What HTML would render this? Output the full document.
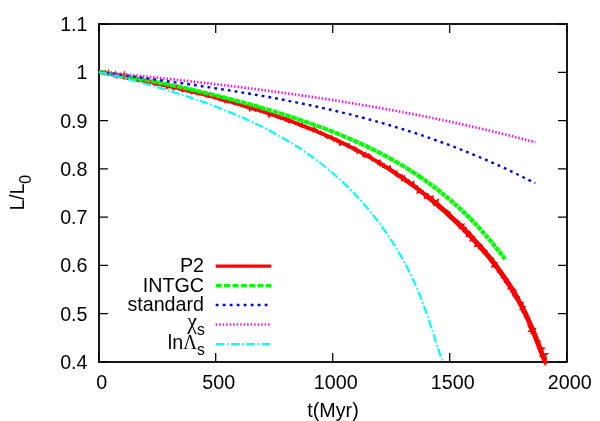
<!DOCTYPE html>
<html><head><meta charset="utf-8"><style>
html,body{margin:0;padding:0;background:#fff;}
svg{display:block;will-change:transform}
text{font-family:"Liberation Sans",sans-serif;font-size:19.7px;fill:#000}
.sym{font-family:"Liberation Serif",serif;}
</style></head><body>
<svg width="600" height="421" viewBox="0 0 600 421">
<rect width="600" height="421" fill="#fff"/>
<g stroke="#000" stroke-width="1.25" fill="none">
<path d="M99.0,362.00h9M567.0,362.00h-9"/>
<path d="M99.0,313.71h9M567.0,313.71h-9"/>
<path d="M99.0,265.43h9M567.0,265.43h-9"/>
<path d="M99.0,217.14h9M567.0,217.14h-9"/>
<path d="M99.0,168.86h9M567.0,168.86h-9"/>
<path d="M99.0,120.57h9M567.0,120.57h-9"/>
<path d="M99.0,72.29h9M567.0,72.29h-9"/>
<path d="M99.0,24.00h9M567.0,24.00h-9"/>
<path d="M98.70,362.0v-9M98.70,24.0v9"/>
<path d="M215.70,362.0v-9M215.70,24.0v9"/>
<path d="M332.70,362.0v-9M332.70,24.0v9"/>
<path d="M449.70,362.0v-9M449.70,24.0v9"/>
<path d="M566.70,362.0v-9M566.70,24.0v9"/>
</g>
<rect x="99.0" y="24.0" width="468.0" height="338.0" fill="none" stroke="#000" stroke-width="1.8"/>
<g fill="none" stroke-linejoin="round">
<path d="M99.0,71.9 L101.8,72.4 L104.5,72.9 L107.3,73.4 L110.1,74.0 L112.8,74.5 L115.6,75.0 L118.4,75.6 L121.1,76.1 L123.9,76.6 L126.6,77.2 L129.4,77.7 L132.1,78.3 L134.9,78.9 L137.7,79.4 L140.4,80.0 L143.2,80.6 L145.9,81.1 L148.7,81.7 L151.4,82.3 L154.2,82.9 L156.9,83.5 L159.7,84.1 L162.4,84.7 L165.2,85.3 L167.9,85.9 L170.7,86.6 L173.4,87.2 L176.1,87.8 L178.9,88.5 L181.6,89.1 L184.4,89.8 L187.1,90.4 L189.8,91.1 L192.6,91.7 L195.3,92.4 L198.0,93.1 L200.8,93.8 L203.5,94.5 L206.2,95.2 L208.9,95.9 L211.7,96.6 L214.4,97.3 L217.1,98.0 L219.8,98.8 L222.5,99.5 L225.2,100.3 L227.9,101.0 L230.7,101.8 L233.4,102.5 L236.1,103.3 L238.8,104.1 L241.5,104.9 L244.2,105.7 L246.9,106.5 L249.5,107.3 L252.2,108.2 L254.9,109.0 L257.6,109.8 L260.3,110.7 L263.0,111.6 L265.6,112.4 L268.3,113.3 L271.0,114.2 L273.6,115.1 L276.3,116.0 L279.0,116.9 L281.6,117.9 L284.3,118.8 L286.9,119.8 L289.6,120.7 L292.2,121.7 L294.8,122.7 L297.5,123.7 L300.1,124.7 L302.7,125.7 L305.3,126.7 L307.9,127.8 L310.6,128.8 L313.2,129.9 L315.8,131.0 L318.3,132.1 L320.9,133.2 L323.5,134.3 L326.1,135.4 L328.7,136.6 L331.2,137.7 L333.8,138.9 L336.3,140.1 L338.9,141.3 L341.4,142.5 L343.9,143.7 L346.5,145.0 L349.0,146.2 L351.5,147.5 L354.0,148.8 L356.5,150.1 L359.0,151.4 L361.5,152.8 L363.9,154.1 L366.4,155.5 L368.8,156.8 L371.3,158.2 L373.7,159.6 L376.2,161.1 L378.6,162.5 L381.0,163.9 L383.4,165.4 L385.8,166.9 L388.2,168.4 L390.5,169.9 L392.9,171.4 L395.2,173.0 L397.6,174.5 L399.9,176.1 L402.2,177.7 L404.5,179.3 L406.8,180.9 L409.1,182.6 L411.4,184.2 L413.7,185.9 L415.9,187.6 L418.2,189.3 L420.4,191.0 L422.6,192.7 L424.9,194.4 L427.1,196.2 L429.2,198.0 L431.4,199.7 L433.6,201.5 L435.7,203.3 L437.9,205.2 L440.0,207.0 L442.1,208.8 L444.3,210.7 L446.4,212.6 L448.4,214.5 L450.5,216.4 L452.6,218.3 L454.6,220.2 L456.7,222.1 L458.7,224.1 L460.7,226.1 L462.7,228.1 L464.7,230.0 L466.6,232.1 L468.6,234.1 L470.5,236.1 L472.5,238.2 L474.4,240.2 L476.3,242.3 L478.2,244.4 L480.0,246.5 L481.9,248.6 L483.7,250.7 L485.6,252.9 L487.4,255.0 L489.2,257.2 L490.9,259.4 L492.7,261.6 L494.4,263.8 L496.1,266.0 L497.8,268.3 L499.5,270.6 L501.1,272.8 L502.8,275.1 L504.4,277.4 L505.9,279.8 L507.5,282.1 L509.0,284.5 L510.6,286.8 L512.0,289.2 L513.5,291.6 L514.9,294.0 L516.4,296.5 L517.7,298.9 L519.1,301.4 L520.4,303.9 L521.7,306.4 L523.0,308.9 L524.3,311.4 L525.5,313.9 L526.7,316.5 L527.9,319.0 L529.0,321.6 L530.1,324.2 L531.3,326.8 L532.3,329.3 L533.4,331.9 L534.5,334.6 L535.5,337.2 L536.5,339.8 L537.6,342.4 L538.6,345.0 L539.6,347.7 L540.6,350.3 L541.6,352.9 L542.7,355.5 L543.7,358.1 L544.8,360.7" stroke="#ff0000" stroke-width="3.2"/>
<path d="M385.1,166.5 L387.4,167.9 L389.8,169.5 L392.2,171.0 L394.5,172.5 L396.9,174.1 L399.2,175.6 L401.5,177.2 L403.8,178.8 L406.2,180.5 L408.4,182.1 L410.7,183.7 L413.0,185.4 L415.3,187.1 L417.5,188.8 L419.7,190.5 L422.0,192.2 L424.2,193.9 L426.4,195.7 L428.6,197.4 L430.8,199.2 L432.9,201.0 L435.1,202.8 L437.2,204.6 L439.4,206.4 L441.5,208.3 L443.6,210.1 L445.7,212.0 L447.8,213.9 L449.9,215.8 L452.0,217.7 L454.0,219.6 L456.0,221.6 L458.1,223.5 L460.1,225.5 L462.1,227.5 L464.1,229.4 L466.1,231.4 L468.0,233.5 L470.0,235.5 L471.9,237.5 L473.8,239.6 L475.7,241.7 L477.6,243.8 L479.5,245.8 L481.3,248.0 L483.2,250.1 L485.0,252.2 L486.8,254.4 L488.6,256.6 L490.4,258.7 L492.1,260.9 L493.9,263.1 L495.6,265.4 L497.3,267.6 L499.0,269.9 L500.6,272.1 L502.3,274.4 L503.9,276.7 L505.5,279.1 L507.0,281.4 L508.6,283.8 L510.1,286.1 L511.6,288.5 L513.1,290.9 L514.5,293.3 L515.9,295.7 L517.3,298.2 L518.7,300.7 L520.0,303.1 L521.3,305.6 L522.6,308.1 L523.9,310.6 L525.1,313.2 L526.3,315.7 L527.5,318.3 L528.7,320.8 L529.8,323.4 L530.9,326.0 L532.0,328.6 L533.1,331.2 L534.2,333.8 L535.2,336.4 L536.2,339.0 L537.3,341.6 L538.3,344.2 L539.3,346.9 L540.3,349.5 L541.3,352.1 L542.4,354.7 L543.4,357.3 L544.5,360.0 L545.5,362.6" stroke="#ff0000" stroke-width="4.0"/>
<path d="M425.1,194.6 L427.3,196.4 L429.5,198.1 L431.6,199.9 L433.8,201.7 L436.0,203.5 L438.1,205.3 L440.2,207.2 L442.4,209.0 L444.5,210.9 L446.6,212.8 L448.6,214.7 L450.7,216.6 L452.8,218.5 L454.8,220.4 L456.9,222.3 L458.9,224.3 L460.9,226.3 L462.9,228.2 L464.9,230.2 L466.8,232.3 L468.8,234.3 L470.7,236.3 L472.7,238.4 L474.6,240.4 L476.5,242.5 L478.4,244.6 L480.2,246.7 L482.1,248.8 L483.9,250.9 L485.7,253.1 L487.5,255.2 L489.3,257.4 L491.1,259.6 L492.8,261.8 L494.6,264.0 L496.3,266.3 L498.0,268.5 L499.6,270.8 L501.3,273.1 L502.9,275.4 L504.5,277.7 L506.1,280.0 L507.7,282.3 L509.2,284.7 L510.7,287.1 L512.2,289.5 L513.6,291.9 L515.1,294.3 L516.5,296.7 L517.9,299.2 L519.2,301.6 L520.6,304.1 L521.9,306.6 L523.1,309.1 L524.4,311.6 L525.6,314.2 L526.8,316.7 L528.0,319.3 L529.1,321.8 L530.3,324.4 L531.4,327.0 L532.4,329.6 L533.5,332.2 L534.6,334.8 L535.6,337.4 L536.6,340.0 L537.7,342.7 L538.7,345.3 L539.7,347.9 L540.7,350.5 L541.7,353.2 L542.8,355.8 L543.8,358.4 L544.9,361.0" stroke="#ff0000" stroke-width="4.9"/>
<path d="M99.0,71.9 L99.8,71.9 L100.6,72.2 L101.3,72.5 L102.2,72.2 L102.9,72.6 L103.7,72.8 L104.6,72.2 L105.2,73.5 L106.0,73.5 L106.9,73.1 L107.7,73.4 L108.4,73.9 L109.2,73.7 L110.0,73.9 L110.9,73.5 L111.5,74.5 L112.4,74.5 L113.1,74.7 L114.1,74.1 L114.6,75.5 L115.5,75.1 L116.3,75.0 L116.9,76.2 L117.9,75.4 L118.8,75.0 L119.5,75.6 L120.4,75.0 L120.9,76.5 L121.8,76.1 L122.6,76.1 L123.3,77.0 L124.3,76.0 L124.9,77.1 L125.9,76.2 L126.6,76.9 L127.4,76.8 L127.9,78.1 L128.7,78.4 L129.7,77.7 L130.4,78.3 L131.2,78.0 L131.9,78.5 L132.8,78.1 L133.7,77.9 L134.5,78.0 L135.1,79.1 L135.7,80.0 L136.7,79.3 L137.5,79.2 L138.1,80.3 L139.0,79.8 L139.8,79.9 L140.6,80.1 L141.4,80.1 L142.2,80.2 L143.1,79.9 L143.7,80.9 L144.5,80.8 L145.2,81.5 L146.1,81.0 L147.0,80.6 L147.7,81.5 L148.3,82.4 L149.3,81.7 L150.1,81.6 L150.9,81.7 L151.7,81.9 L152.4,82.4 L153.2,82.2 L153.8,83.5 L154.7,82.9 L155.5,83.2 L156.1,83.9 L156.9,84.1 L157.8,83.6 L158.6,84.0 L159.3,84.3 L160.2,84.1 L161.1,83.7 L161.7,84.8 L162.4,85.1 L163.3,85.1 L164.2,84.7 L164.9,85.2 L165.7,85.2 L166.4,85.5 L166.9,87.1 L167.8,86.6 L168.7,86.4 L169.5,86.5 L170.3,86.8 L171.1,86.7 L171.9,86.8 L172.7,86.7 L173.6,86.5 L174.0,88.3 L174.9,87.9 L175.8,87.6 L176.8,86.7 L177.4,87.7 L178.1,88.4 L178.9,88.6 L179.8,88.1 L180.4,89.0 L181.3,88.8 L181.9,89.8 L182.8,89.4 L183.4,90.3 L184.4,89.6 L185.1,89.8 L185.9,90.2 L186.6,90.7 L187.4,90.7 L188.4,90.2 L189.0,90.9 L189.8,91.1 L190.6,91.1 L191.4,91.2 L191.9,92.3 L192.9,91.7 L193.8,91.7 L194.4,92.5 L195.2,92.4 L196.0,92.6 L196.7,93.1 L197.5,93.2 L198.3,93.3 L199.0,93.8 L199.9,93.7 L200.7,93.5 L201.5,93.8 L202.3,93.9 L203.0,94.4 L203.9,94.1 L204.7,94.0 L205.3,95.0 L206.2,94.6 L207.1,94.5 L207.6,95.7 L208.5,95.5 L209.1,96.1 L210.0,95.9 L210.9,95.9 L211.6,96.0 L212.3,96.5 L213.1,96.8 L213.9,96.8 L214.6,97.3 L215.5,97.0 L216.1,97.8 L217.1,97.3 L217.7,98.1 L218.4,98.7 L219.1,99.1 L219.8,99.5 L221.0,98.4 L221.5,99.5 L222.2,99.9 L223.0,100.1 L224.0,99.5 L224.6,100.3 L225.2,101.1 L226.3,99.9 L226.9,100.9 L227.6,101.4 L228.6,100.9 L229.2,101.6 L230.2,101.2 L230.9,101.5 L231.7,101.7 L232.3,102.3 L233.1,102.4 L233.8,103.1 L234.8,102.5 L235.4,103.1 L236.1,103.7 L236.9,103.8 L237.9,103.3 L238.4,104.3 L239.3,104.1 L240.0,104.6 L240.8,104.8 L241.4,105.4 L242.3,105.2 L243.3,104.6 L244.0,105.1 L244.5,106.1 L245.4,106.0 L246.0,106.8 L246.9,106.6 L247.8,106.5 L248.3,107.4 L249.3,106.9 L250.2,106.6 L250.5,108.5 L251.7,107.2 L252.2,108.4 L252.9,108.8 L253.8,108.7 L254.8,108.2 L254.8,110.9 L256.3,108.8 L257.0,109.1 L257.7,109.7 L258.7,109.2 L259.1,110.4 L259.8,110.9 L260.7,110.6 L261.5,111.0 L262.3,110.9 L263.0,111.4 L263.6,112.0 L264.5,111.9 L265.2,112.5 L266.1,112.3 L266.8,112.6 L267.5,113.1 L268.3,113.2 L269.0,113.8 L269.3,115.3 L270.3,114.8 L271.3,114.2 L272.1,114.5 L273.0,114.4 L273.6,115.1 L274.2,115.6 L275.2,115.3 L275.9,115.8 L276.5,116.4 L277.4,116.3 L278.2,116.4 L278.7,117.3 L279.6,117.2 L280.3,117.6 L281.0,118.2 L281.7,118.4 L282.7,118.1 L283.5,118.3 L284.1,118.9 L284.9,119.0 L285.9,118.6 L286.2,120.1 L287.2,119.9 L287.8,120.4 L288.8,119.9 L289.2,121.2 L290.3,120.7 L290.9,121.2 L291.9,121.0 L292.5,121.7 L293.2,122.0 L294.0,122.3 L294.6,122.8 L295.4,122.9 L296.0,123.6 L297.0,123.3 L297.8,123.4 L298.4,124.0 L299.1,124.6 L299.7,125.1 L300.5,125.2 L301.7,124.5 L302.1,125.6 L302.7,126.4 L303.6,126.1 L304.5,126.2 L305.1,126.8 L305.9,126.8 L306.5,127.5 L307.4,127.5 L307.9,128.4 L308.8,128.3 L309.7,128.2 L310.2,129.0 L310.9,129.4 L311.9,129.1 L312.6,129.5 L313.6,129.1 L313.9,130.6 L314.9,130.3 L315.8,130.1 L316.5,130.5 L317.0,131.4 L317.6,132.1 L318.5,132.1 L319.1,132.6 L320.1,132.3 L320.9,132.6 L321.2,133.7 L322.0,133.9 L322.9,134.0 L323.7,134.2 L324.5,134.3 L325.1,134.8 L325.6,135.7 L326.2,136.3 L327.2,136.0 L327.7,136.9 L328.8,136.4 L329.4,137.1 L330.2,137.2 L331.2,137.0 L331.6,138.0 L332.2,138.6 L333.1,138.5 L333.8,138.9 L334.3,139.8 L335.5,139.1 L336.2,139.4 L336.8,140.0 L337.6,140.2 L337.9,141.5 L338.8,141.4 L339.8,141.3 L340.4,141.8 L340.5,143.4 L341.9,142.5 L342.6,142.7 L343.1,143.5 L343.8,144.0 L344.6,144.2 L345.5,144.1 L346.3,144.4 L346.7,145.4 L347.5,145.5 L348.5,145.2 L348.7,146.7 L349.5,146.9 L350.4,146.9 L351.1,147.2 L351.7,147.8 L352.6,147.8 L353.5,147.9 L353.9,148.9 L354.9,148.6 L355.3,149.7 L356.3,149.3 L356.8,150.2 L357.5,150.6 L357.8,151.7 L359.1,151.0 L359.9,151.2 L360.4,151.9 L361.2,152.1 L361.8,152.7 L362.3,153.4 L363.0,153.9 L363.5,154.7 L364.7,154.1 L364.7,155.8 L365.5,155.9 L366.7,155.5 L367.8,155.1 L368.0,156.3 L368.7,156.8 L369.9,156.3 L370.1,157.6 L370.8,157.9 L371.7,158.0 L372.0,159.0 L372.6,159.5 L373.7,159.4 L374.2,160.0 L375.1,160.1 L375.8,160.4 L376.3,161.2 L376.9,161.8 L377.8,161.8 L378.9,161.5 L378.9,163.0 L380.1,162.6 L380.4,163.7 L380.7,164.7 L381.8,164.4 L382.8,164.4 L383.5,164.7 L383.6,166.2 L384.5,166.1 L385.1,166.8 L385.7,167.4 L386.6,167.4 L387.3,167.7 L388.2,167.9 L389.4,167.4 L389.7,168.5 L390.0,169.5 L390.7,169.9 L391.2,170.6 L392.0,170.8 L392.6,171.3 L393.1,172.0 L394.2,171.8 L394.7,172.5 L395.8,172.4 L395.7,173.9 L396.6,173.9 L397.2,174.6 L397.5,175.5 L398.3,175.7 L399.3,175.7 L399.7,176.5 L401.0,176.0 L401.2,177.2 L401.9,177.6 L403.1,177.3 L402.9,179.0 L404.1,178.6 L404.4,179.6 L405.4,179.6 L405.6,180.7 L406.1,181.3 L407.4,180.8 L408.3,181.0 L408.5,182.1 L408.9,183.0 L409.9,182.9 L410.6,183.2 L410.9,184.2 L412.6,183.2 L412.6,184.6 L413.5,184.8 L413.6,186.0 L414.6,186.0 L415.3,186.3 L415.7,187.2 L416.7,187.1 L416.9,188.3 L417.7,188.4 L418.3,189.1 L419.0,189.4 L418.6,191.3 L420.1,190.6 L420.5,191.4 L421.1,191.9 L422.2,191.8 L422.4,192.9 L423.1,193.3 L423.7,193.8 L424.6,194.0 L425.3,194.4 L425.4,195.5 L425.5,196.6 L427.3,195.7 L427.4,196.9 L428.4,197.0 L428.5,198.0 L429.3,198.3 L430.2,198.5 L431.8,197.8 L431.6,199.4 L432.3,199.7 L432.6,200.6 L433.5,200.8 L434.0,201.4 L434.1,202.5 L434.3,203.6 L436.7,201.9 L436.4,203.6 L436.7,204.4 L437.5,204.8 L438.2,205.1 L439.2,205.2 L439.7,205.9 L439.6,207.2 L440.1,207.9 L441.1,208.0 L442.0,208.1 L442.3,209.0 L443.0,209.4 L443.3,210.3 L444.1,210.6 L445.0,210.8 L445.2,211.7 L446.4,211.6 L446.1,213.1 L446.6,213.8 L448.2,213.2 L448.1,214.5 L449.3,214.4 L449.0,215.9 L449.7,216.3 L450.7,216.4 L450.8,217.5 L452.0,217.4 L452.7,217.8 L453.2,218.4 L453.6,219.1 L454.3,219.6 L454.6,220.4 L455.6,220.6 L455.5,221.7 L456.0,222.4 L457.2,222.3 L458.2,222.4 L457.9,223.9 L458.3,224.7 L459.4,224.7 L460.5,224.7 L460.4,226.0 L460.4,227.1 L462.4,226.1 L462.0,227.7 L462.9,228.0 L463.7,228.3 L463.7,229.5 L465.0,229.2 L464.9,230.5 L465.0,231.5 L466.0,231.6 L467.1,231.7 L468.0,231.9 L468.4,232.7 L469.2,233.0 L468.2,235.1 L469.6,234.9 L470.5,235.1 L471.1,235.6 L471.6,236.2 L471.8,237.1 L472.8,237.3 L472.0,239.2 L473.6,238.7 L474.2,239.3 L474.2,240.3 L474.3,241.4 L474.9,241.9 L476.2,241.8 L476.4,242.7 L477.0,243.2 L476.4,244.9 L478.0,244.5 L479.1,244.6 L479.8,245.0 L479.7,246.2 L480.8,246.3 L480.2,247.9 L481.3,248.0 L482.3,248.1 L482.5,249.0 L483.1,249.6 L483.5,250.3 L483.5,251.4 L485.2,251.0 L485.9,251.4 L485.3,252.9 L486.1,253.3 L486.5,254.1 L486.8,254.8 L487.6,255.2 L488.7,255.3 L489.0,256.1 L489.0,257.1 L490.0,257.4 L490.6,257.9 L490.3,259.2 L490.8,259.8 L492.5,259.5 L492.6,260.4 L492.4,261.6 L492.6,262.5 L493.9,262.5 L494.1,263.3 L495.2,263.5 L493.8,265.6 L495.3,265.5 L495.6,266.2 L496.2,266.8 L496.5,267.5 L497.2,268.1 L498.1,268.3 L498.0,269.4 L498.8,269.8 L498.7,270.9 L500.2,270.8 L500.6,271.5 L500.4,272.6 L500.6,273.5 L501.6,273.7 L502.5,274.0 L502.7,274.9 L503.3,275.4 L502.6,276.9 L503.5,277.2 L503.8,278.0 L504.8,278.3 L505.6,278.7 L505.2,280.0 L505.4,280.8 L507.2,280.6 L507.2,281.5 L507.0,282.6 L508.2,282.8 L508.1,283.8 L509.3,284.0 L509.8,284.6 L509.5,285.8 L510.0,286.4 L509.6,287.6 L511.2,287.5 L511.4,288.3 L512.5,288.6 L513.3,289.0 L513.7,289.8 L512.9,291.2 L514.2,291.3 L513.4,292.7 L513.6,293.5 L514.9,293.7 L514.3,295.0 L515.5,295.2 L515.4,296.2 L516.5,296.5 L516.3,297.5 L517.7,297.6 L517.2,298.8 L518.2,299.2 L518.4,300.0 L518.4,300.9 L519.0,301.5 L519.5,302.1 L519.5,303.0 L519.8,303.8 L521.4,303.8 L520.7,305.1 L521.0,305.8 L522.1,306.2 L521.9,307.2 L523.2,307.4 L522.0,308.9 L523.3,309.2 L523.6,309.9 L523.2,311.0 L524.3,311.3 L524.3,312.2 L525.5,312.5 L525.6,313.4 L526.4,313.9 L526.1,314.9 L525.7,316.0 L526.5,316.5 L526.5,317.4 L527.9,317.6 L528.2,318.4 L528.3,319.2 L528.0,320.2 L528.5,320.9 L529.0,321.5 L529.0,322.4 L529.7,322.9 L530.0,323.7 L529.5,324.8 L530.9,325.0 L530.8,326.0 L530.3,327.0 L531.5,327.4 L531.4,328.3 L532.5,328.7 L531.3,330.1 L534.0,329.8 L533.7,330.8 L534.0,331.6 L532.7,332.9 L533.8,333.4 L534.4,334.0 L535.3,334.5 L534.6,335.6 L535.1,336.3 L535.9,336.9 L536.6,337.4 L536.7,338.3 L536.2,339.3 L536.4,340.1 L536.9,340.8 L537.3,341.5 L538.5,341.8 L537.8,343.0 L538.7,343.5 L538.3,344.5 L538.4,345.3 L539.3,345.8 L539.8,346.5 L538.9,347.7 L539.6,348.3 L540.5,348.8 L542.1,349.0 L540.7,350.4 L540.6,351.3 L540.6,352.2 L541.9,352.5 L542.2,353.3 L542.4,354.1 L541.9,355.1 L544.7,354.9 L543.1,356.4 L543.8,356.9 L543.5,357.9 L544.8,358.3 L544.2,359.4 L544.6,360.1 L544.8,360.8 L545.1,361.6 L545.3,362.4 L545.9,363.0 L545.8,363.2" stroke="#ff0000" stroke-width="3.4" stroke-linejoin="miter" stroke-miterlimit="3"/>
<path d="M543.2,362.6L546.9,362.6L545.2,366.2Z" fill="#ff0000" stroke="none"/>
<path d="M107.5,73.5L108.4,69.2L109.3,73.8ZM108.7,73.7L109.6,75.6L110.5,74.1ZM114.7,74.9L115.6,70.8L116.5,75.2ZM117.1,75.3L118.0,78.2L118.9,75.7ZM123.5,76.6L124.4,70.8L125.3,76.9ZM123.9,76.6L124.8,80.0L125.7,77.0ZM125.7,77.0L126.6,79.6L127.5,77.4ZM137.5,79.4L138.4,81.8L139.3,79.8ZM154.9,83.1L155.8,85.6L156.7,83.4ZM161.5,84.5L162.4,86.4L163.3,84.9Z" fill="#ff0000" stroke="#ff0000" stroke-width="0.5" stroke-linejoin="miter"/>
<path d="M99.0,71.9 L100.0,72.1 L101.0,72.2 L102.1,72.4 L103.1,72.5 L104.1,72.7 L105.1,72.8 L106.1,73.0 L107.1,73.2 L108.2,73.3 L109.2,73.5 L110.2,73.6 L111.2,73.8 L112.2,74.0 L113.2,74.1 L114.3,74.3 L115.3,74.5 L116.3,74.6 L117.3,74.8 L118.3,75.0 L119.4,75.1 L120.4,75.3 L121.4,75.5 L122.4,75.7 L123.4,75.8 L124.4,76.0 L125.5,76.2 L126.5,76.4 L127.5,76.5 L128.5,76.7 L129.5,76.9 L130.5,77.1 L131.6,77.3 L132.6,77.4 L133.6,77.6 L134.6,77.8 L135.6,78.0 L136.6,78.2 L137.7,78.4 L138.7,78.6 L139.7,78.7 L140.7,78.9 L141.7,79.1 L142.8,79.3 L143.8,79.5 L144.8,79.7 L145.8,79.9 L146.8,80.1 L147.8,80.3 L148.9,80.5 L149.9,80.7 L150.9,80.9 L151.9,81.1 L152.9,81.3 L153.9,81.5 L155.0,81.7 L156.0,81.9 L157.0,82.1 L158.0,82.3 L159.0,82.5 L160.1,82.7 L161.1,82.9 L162.1,83.1 L163.1,83.3 L164.1,83.5 L165.1,83.8 L166.2,84.0 L167.2,84.2 L168.2,84.4 L169.2,84.6 L170.2,84.8 L171.2,85.0 L172.3,85.3 L173.3,85.5 L174.3,85.7 L175.3,85.9 L176.3,86.1 L177.4,86.4 L178.4,86.6 L179.4,86.8 L180.4,87.0 L181.4,87.3 L182.4,87.5 L183.5,87.7 L184.5,87.9 L185.5,88.2 L186.5,88.4 L187.5,88.6 L188.5,88.9 L189.6,89.1 L190.6,89.3 L191.6,89.6 L192.6,89.8 L193.6,90.0 L194.6,90.3 L195.7,90.5 L196.7,90.7 L197.7,91.0 L198.7,91.2 L199.7,91.5 L200.8,91.7 L201.8,91.9 L202.8,92.2 L203.8,92.4 L204.8,92.7 L205.8,92.9 L206.9,93.2 L207.9,93.4 L208.9,93.7 L209.9,93.9 L210.9,94.2 L211.9,94.4 L213.0,94.7 L214.0,94.9 L215.0,95.2 L216.0,95.4 L217.0,95.7 L218.1,95.9 L219.1,96.2 L220.1,96.5 L221.1,96.7 L222.1,97.0 L223.1,97.2 L224.2,97.5 L225.2,97.8 L226.2,98.0 L227.2,98.3 L228.2,98.5 L229.2,98.8 L230.3,99.1 L231.3,99.3 L232.3,99.6 L233.3,99.9 L234.3,100.2 L235.4,100.4 L236.4,100.7 L237.4,101.0 L238.4,101.2 L239.4,101.5 L240.4,101.8 L241.5,102.1 L242.5,102.4 L243.5,102.6 L244.5,102.9 L245.5,103.2 L246.5,103.5 L247.6,103.8 L248.6,104.0 L249.6,104.3 L250.6,104.6 L251.6,104.9 L252.6,105.2 L253.7,105.5 L254.7,105.8 L255.7,106.1 L256.7,106.3 L257.7,106.6 L258.8,106.9 L259.8,107.2 L260.8,107.5 L261.8,107.8 L262.8,108.1 L263.8,108.4 L264.9,108.7 L265.9,109.0 L266.9,109.3 L267.9,109.6 L268.9,109.9 L269.9,110.2 L271.0,110.5 L272.0,110.8 L273.0,111.2 L274.0,111.5 L275.0,111.8 L276.1,112.1 L277.1,112.4 L278.1,112.7 L279.1,113.0 L280.1,113.4 L281.1,113.7 L282.2,114.0 L283.2,114.3 L284.2,114.6 L285.2,115.0 L286.2,115.3 L287.2,115.6 L288.3,115.9 L289.3,116.3 L290.3,116.6 L291.3,116.9 L292.3,117.3 L293.4,117.6 L294.4,117.9 L295.4,118.3 L296.4,118.6 L297.4,118.9 L298.4,119.3 L299.5,119.6 L300.5,120.0 L301.5,120.3 L302.5,120.7 L303.5,121.0 L304.5,121.4 L305.6,121.7 L306.6,122.1 L307.6,122.4 L308.6,122.8 L309.6,123.1 L310.6,123.5 L311.7,123.9 L312.7,124.2 L313.7,124.6 L314.7,125.0 L315.7,125.3 L316.8,125.7 L317.8,126.1 L318.8,126.4 L319.8,126.8 L320.8,127.2 L321.8,127.6 L322.9,127.9 L323.9,128.3 L324.9,128.7 L325.9,129.1 L326.9,129.5 L327.9,129.9 L329.0,130.3 L330.0,130.7 L331.0,131.1 L332.0,131.5 L333.0,131.9 L334.1,132.3 L335.1,132.7 L336.1,133.1 L337.1,133.5 L338.1,133.9 L339.1,134.3 L340.2,134.7 L341.2,135.1 L342.2,135.6 L343.2,136.0 L344.2,136.4 L345.2,136.8 L346.3,137.3 L347.3,137.7 L348.3,138.1 L349.3,138.6 L350.3,139.0 L351.4,139.4 L352.4,139.9 L353.4,140.3 L354.4,140.8 L355.4,141.2 L356.4,141.7 L357.5,142.1 L358.5,142.6 L359.5,143.1 L360.5,143.5 L361.5,144.0 L362.5,144.5 L363.6,144.9 L364.6,145.4 L365.6,145.9 L366.6,146.4 L367.6,146.9 L368.6,147.3 L369.7,147.8 L370.7,148.3 L371.7,148.8 L372.7,149.3 L373.7,149.8 L374.8,150.3 L375.8,150.9 L376.8,151.4 L377.8,151.9 L378.8,152.4 L379.8,152.9 L380.9,153.5 L381.9,154.0 L382.9,154.5 L383.9,155.1 L384.9,155.6 L385.9,156.1 L387.0,156.7 L388.0,157.2 L389.0,157.8 L390.0,158.4 L391.0,158.9 L392.1,159.5 L393.1,160.1 L394.1,160.6 L395.1,161.2 L396.1,161.8 L397.1,162.4 L398.2,163.0 L399.2,163.6 L400.2,164.2 L401.2,164.8 L402.2,165.4 L403.2,166.0 L404.3,166.6 L405.3,167.3 L406.3,167.9 L407.3,168.5 L408.3,169.2 L409.4,169.8 L410.4,170.4 L411.4,171.1 L412.4,171.7 L413.4,172.4 L414.4,173.1 L415.5,173.7 L416.5,174.4 L417.5,175.1 L418.5,175.8 L419.5,176.5 L420.5,177.2" stroke="#00ff00" stroke-width="4.1" stroke-dasharray="5.8 0.8"/>
<path d="M419.5,176.5 L420.5,177.2 L421.6,177.9 L422.6,178.6 L423.6,179.3 L424.6,180.0 L425.6,180.7 L426.6,181.4 L427.7,182.2 L428.7,182.9 L429.7,183.7 L430.7,184.4 L431.7,185.2 L432.8,185.9 L433.8,186.7 L434.8,187.5 L435.8,188.3 L436.8,189.0 L437.8,189.8 L438.9,190.6 L439.9,191.4 L440.9,192.2 L441.9,193.1 L442.9,193.9 L443.9,194.7 L445.0,195.6 L446.0,196.4 L447.0,197.3 L448.0,198.1 L449.0,199.0 L450.1,199.8 L451.1,200.7 L452.1,201.6 L453.1,202.5 L454.1,203.4 L455.1,204.3 L456.2,205.2 L457.2,206.1 L458.2,207.1 L459.2,208.0 L460.2,208.9 L461.2,209.9 L462.3,210.9 L463.3,211.8 L464.3,212.8 L465.3,213.8 L466.3,214.8 L467.4,215.8 L468.4,216.8 L469.4,217.8 L470.4,218.8 L471.4,219.8 L472.4,220.9 L473.5,221.9 L474.5,223.0 L475.5,224.1 L476.5,225.1 L477.5,226.2 L478.5,227.3 L479.6,228.4 L480.6,229.5 L481.6,230.6 L482.6,231.8 L483.6,232.9 L484.6,234.1 L485.7,235.2 L486.7,236.4 L487.7,237.6 L488.7,238.7 L489.7,239.9 L490.8,241.1 L491.8,242.4 L492.8,243.6 L493.8,244.8 L494.8,246.1 L495.8,247.3 L496.9,248.6 L497.9,249.9 L498.9,251.2 L499.9,252.5 L500.9,253.8 L501.9,255.1 L503.0,256.4 L504.0,257.8 L505.0,259.1" stroke="#00ff00" stroke-width="4.3" stroke-dasharray="4.6 0.9"/>
<path d="M99.0,71.9 L101.2,72.2 L103.4,72.5 L105.6,72.8 L107.8,73.1 L110.0,73.4 L112.2,73.7 L114.3,74.0 L116.5,74.3 L118.7,74.6 L120.9,74.9 L123.1,75.2 L125.3,75.5 L127.5,75.8 L129.7,76.1 L131.9,76.4 L134.1,76.7 L136.3,77.0 L138.5,77.3 L140.7,77.5 L142.8,77.8 L145.0,78.1 L147.2,78.4 L149.4,78.7 L151.6,79.0 L153.8,79.3 L156.0,79.6 L158.2,79.9 L160.4,80.2 L162.6,80.5 L164.8,80.9 L167.0,81.2 L169.2,81.5 L171.4,81.8 L173.5,82.1 L175.7,82.4 L177.9,82.7 L180.1,83.0 L182.3,83.3 L184.5,83.6 L186.7,83.9 L188.9,84.3 L191.1,84.6 L193.3,84.9 L195.5,85.2 L197.7,85.5 L199.9,85.9 L202.0,86.2 L204.2,86.5 L206.4,86.8 L208.6,87.2 L210.8,87.5 L213.0,87.8 L215.2,88.2 L217.4,88.5 L219.6,88.8 L221.8,89.2 L224.0,89.5 L226.2,89.9 L228.4,90.2 L230.5,90.6 L232.7,90.9 L234.9,91.3 L237.1,91.6 L239.3,92.0 L241.5,92.4 L243.7,92.7 L245.9,93.1 L248.1,93.5 L250.3,93.8 L252.5,94.2 L254.7,94.6 L256.9,95.0 L259.0,95.4 L261.2,95.7 L263.4,96.1 L265.6,96.5 L267.8,96.9 L270.0,97.3 L272.2,97.7 L274.4,98.1 L276.6,98.5 L278.8,98.9 L281.0,99.4 L283.2,99.8 L285.4,100.2 L287.6,100.6 L289.7,101.1 L291.9,101.5 L294.1,101.9 L296.3,102.4 L298.5,102.8 L300.7,103.3 L302.9,103.7 L305.1,104.2 L307.3,104.6 L309.5,105.1 L311.7,105.6 L313.9,106.0 L316.1,106.5 L318.2,107.0 L320.4,107.5 L322.6,108.0 L324.8,108.4 L327.0,108.9 L329.2,109.4 L331.4,110.0 L333.6,110.5 L335.8,111.0 L338.0,111.5 L340.2,112.0 L342.4,112.6 L344.6,113.1 L346.7,113.6 L348.9,114.2 L351.1,114.7 L353.3,115.3 L355.5,115.8 L357.7,116.4 L359.9,117.0 L362.1,117.5 L364.3,118.1 L366.5,118.7 L368.7,119.3 L370.9,119.9 L373.1,120.5 L375.3,121.1 L377.4,121.7 L379.6,122.3 L381.8,122.9 L384.0,123.6 L386.2,124.2 L388.4,124.8 L390.6,125.5 L392.8,126.1 L395.0,126.8 L397.2,127.5 L399.4,128.1 L401.6,128.8 L403.8,129.5 L405.9,130.2 L408.1,130.9 L410.3,131.6 L412.5,132.3 L414.7,133.0 L416.9,133.7 L419.1,134.4 L421.3,135.2 L423.5,135.9 L425.7,136.6 L427.9,137.4 L430.1,138.1 L432.3,138.9 L434.4,139.7 L436.6,140.5 L438.8,141.2 L441.0,142.0 L443.2,142.8 L445.4,143.6 L447.6,144.4 L449.8,145.3 L452.0,146.1 L454.2,146.9 L456.4,147.8 L458.6,148.6 L460.8,149.5 L462.9,150.3 L465.1,151.2 L467.3,152.1 L469.5,153.0 L471.7,153.9 L473.9,154.8 L476.1,155.7 L478.3,156.6 L480.5,157.5 L482.7,158.4 L484.9,159.4 L487.1,160.3 L489.3,161.3 L491.5,162.3 L493.6,163.2 L495.8,164.2 L498.0,165.2 L500.2,166.2 L502.4,167.2 L504.6,168.2 L506.8,169.2 L509.0,170.3 L511.2,171.3 L513.4,172.3 L515.6,173.4 L517.8,174.5 L520.0,175.5 L522.1,176.6 L524.3,177.7 L526.5,178.8 L528.7,179.9 L530.9,181.0 L533.1,182.1 L535.3,183.3" stroke="#0000ff" stroke-width="2.4" stroke-dasharray="2.8 4.05"/>
<path d="M99.0,71.9 L101.2,72.1 L103.4,72.3 L105.6,72.5 L107.8,72.7 L110.0,73.0 L112.2,73.2 L114.3,73.4 L116.5,73.6 L118.7,73.8 L120.9,74.0 L123.1,74.2 L125.3,74.5 L127.5,74.7 L129.7,74.9 L131.9,75.1 L134.1,75.3 L136.3,75.6 L138.5,75.8 L140.7,76.0 L142.8,76.2 L145.0,76.5 L147.2,76.7 L149.4,76.9 L151.6,77.1 L153.8,77.4 L156.0,77.6 L158.2,77.8 L160.4,78.0 L162.6,78.3 L164.8,78.5 L167.0,78.7 L169.2,79.0 L171.4,79.2 L173.5,79.4 L175.7,79.7 L177.9,79.9 L180.1,80.2 L182.3,80.4 L184.5,80.6 L186.7,80.9 L188.9,81.1 L191.1,81.4 L193.3,81.6 L195.5,81.9 L197.7,82.1 L199.9,82.4 L202.0,82.6 L204.2,82.9 L206.4,83.1 L208.6,83.4 L210.8,83.6 L213.0,83.9 L215.2,84.1 L217.4,84.4 L219.6,84.6 L221.8,84.9 L224.0,85.2 L226.2,85.4 L228.4,85.7 L230.5,86.0 L232.7,86.2 L234.9,86.5 L237.1,86.8 L239.3,87.0 L241.5,87.3 L243.7,87.6 L245.9,87.9 L248.1,88.1 L250.3,88.4 L252.5,88.7 L254.7,89.0 L256.9,89.3 L259.0,89.5 L261.2,89.8 L263.4,90.1 L265.6,90.4 L267.8,90.7 L270.0,91.0 L272.2,91.3 L274.4,91.6 L276.6,91.9 L278.8,92.2 L281.0,92.5 L283.2,92.8 L285.4,93.1 L287.6,93.4 L289.7,93.7 L291.9,94.0 L294.1,94.3 L296.3,94.6 L298.5,94.9 L300.7,95.2 L302.9,95.6 L305.1,95.9 L307.3,96.2 L309.5,96.5 L311.7,96.9 L313.9,97.2 L316.1,97.5 L318.2,97.8 L320.4,98.2 L322.6,98.5 L324.8,98.8 L327.0,99.2 L329.2,99.5 L331.4,99.9 L333.6,100.2 L335.8,100.6 L338.0,100.9 L340.2,101.2 L342.4,101.6 L344.6,102.0 L346.7,102.3 L348.9,102.7 L351.1,103.0 L353.3,103.4 L355.5,103.8 L357.7,104.1 L359.9,104.5 L362.1,104.9 L364.3,105.2 L366.5,105.6 L368.7,106.0 L370.9,106.4 L373.1,106.8 L375.3,107.1 L377.4,107.5 L379.6,107.9 L381.8,108.3 L384.0,108.7 L386.2,109.1 L388.4,109.5 L390.6,109.9 L392.8,110.3 L395.0,110.7 L397.2,111.1 L399.4,111.5 L401.6,111.9 L403.8,112.3 L405.9,112.8 L408.1,113.2 L410.3,113.6 L412.5,114.0 L414.7,114.5 L416.9,114.9 L419.1,115.3 L421.3,115.8 L423.5,116.2 L425.7,116.6 L427.9,117.1 L430.1,117.5 L432.3,118.0 L434.4,118.4 L436.6,118.9 L438.8,119.3 L441.0,119.8 L443.2,120.2 L445.4,120.7 L447.6,121.2 L449.8,121.6 L452.0,122.1 L454.2,122.6 L456.4,123.1 L458.6,123.5 L460.8,124.0 L462.9,124.5 L465.1,125.0 L467.3,125.5 L469.5,126.0 L471.7,126.5 L473.9,127.0 L476.1,127.5 L478.3,128.0 L480.5,128.5 L482.7,129.0 L484.9,129.5 L487.1,130.0 L489.3,130.6 L491.5,131.1 L493.6,131.6 L495.8,132.1 L498.0,132.7 L500.2,133.2 L502.4,133.8 L504.6,134.3 L506.8,134.8 L509.0,135.4 L511.2,135.9 L513.4,136.5 L515.6,137.1 L517.8,137.6 L520.0,138.2 L522.1,138.7 L524.3,139.3 L526.5,139.9 L528.7,140.5 L530.9,141.0 L533.1,141.6 L535.3,142.2" stroke="#ff00ff" stroke-width="2.7" stroke-dasharray="1.4 2.0"/>
<path d="M99.0,71.9 L101.3,72.5 L103.7,73.0 L106.0,73.6 L108.4,74.1 L110.7,74.7 L113.0,75.3 L115.4,75.9 L117.7,76.4 L120.0,77.0 L122.4,77.6 L124.7,78.2 L127.0,78.8 L129.3,79.4 L131.7,80.0 L134.0,80.6 L136.3,81.3 L138.6,81.9 L141.0,82.5 L143.3,83.2 L145.6,83.8 L147.9,84.4 L150.2,85.1 L152.5,85.8 L154.8,86.4 L157.1,87.1 L159.5,87.8 L161.8,88.4 L164.1,89.1 L166.4,89.8 L168.7,90.5 L171.0,91.2 L173.3,91.9 L175.6,92.7 L177.8,93.4 L180.1,94.1 L182.4,94.9 L184.7,95.6 L187.0,96.4 L189.3,97.1 L191.6,97.9 L193.8,98.7 L196.1,99.4 L198.4,100.2 L200.6,101.0 L202.9,101.8 L205.2,102.6 L207.4,103.5 L209.7,104.3 L211.9,105.1 L214.2,106.0 L216.4,106.8 L218.7,107.7 L220.9,108.6 L223.2,109.5 L225.4,110.4 L227.6,111.3 L229.8,112.2 L232.1,113.1 L234.3,114.0 L236.5,115.0 L238.7,115.9 L240.9,116.9 L243.1,117.8 L245.3,118.8 L247.5,119.8 L249.7,120.8 L251.9,121.8 L254.0,122.9 L256.2,123.9 L258.4,125.0 L260.5,126.0 L262.7,127.1 L264.8,128.2 L266.9,129.3 L269.1,130.4 L271.2,131.5 L273.3,132.6 L275.4,133.8 L277.5,135.0 L279.6,136.1 L281.7,137.3 L283.8,138.5 L285.9,139.7 L288.0,141.0 L290.0,142.2 L292.1,143.5 L294.1,144.7 L296.1,146.0 L298.2,147.3 L300.2,148.6 L302.2,149.9 L304.2,151.3 L306.2,152.6 L308.1,154.0 L310.1,155.4 L312.1,156.8 L314.0,158.2 L315.9,159.6 L317.9,161.1 L319.8,162.5 L321.7,164.0 L323.6,165.5 L325.4,167.0 L327.3,168.5 L329.1,170.1 L331.0,171.6 L332.8,173.2 L334.6,174.7 L336.4,176.3 L338.2,177.9 L340.0,179.6 L341.8,181.2 L343.5,182.8 L345.3,184.5 L347.0,186.2 L348.7,187.9 L350.4,189.6 L352.1,191.3 L353.8,193.0 L355.4,194.7 L357.1,196.5 L358.7,198.3 L360.3,200.0 L361.9,201.8 L363.5,203.6 L365.1,205.4 L366.6,207.3 L368.2,209.1 L369.7,211.0 L371.3,212.8 L372.8,214.7 L374.3,216.6 L375.7,218.5 L377.2,220.4 L378.7,222.3 L380.1,224.2 L381.5,226.2 L382.9,228.1 L384.3,230.1 L385.7,232.0 L387.1,234.0 L388.4,236.0 L389.7,238.0 L391.1,240.0 L392.4,242.0 L393.7,244.1 L394.9,246.1 L396.2,248.2 L397.4,250.2 L398.7,252.3 L399.9,254.4 L401.1,256.4 L402.3,258.5 L403.4,260.6 L404.6,262.7 L405.7,264.9 L406.8,267.0 L407.9,269.1 L409.0,271.3 L410.1,273.4 L411.1,275.6 L412.2,277.8 L413.2,279.9 L414.2,282.1 L415.2,284.3 L416.1,286.5 L417.1,288.7 L418.0,290.9 L419.0,293.2 L419.9,295.4 L420.8,297.6 L421.6,299.9 L422.5,302.1 L423.3,304.4 L424.2,306.6 L425.0,308.9 L425.8,311.1 L426.6,313.4 L427.4,315.7 L428.2,318.0 L428.9,320.2 L429.7,322.5 L430.4,324.8 L431.2,327.1 L431.9,329.4 L432.6,331.7 L433.4,334.0 L434.1,336.2 L434.8,338.5 L435.5,340.8 L436.3,343.1 L437.0,345.4 L437.8,347.7 L438.5,350.0 L439.3,352.2 L440.1,354.5 L440.9,356.8 L441.7,359.0 L442.5,361.3" stroke="#00ffff" stroke-width="2.2" stroke-dasharray="8.4 2.7 1.5 2.4"/>
</g>
<text transform="translate(87.50,369.00) scale(1,1.06)" text-anchor="end">0.4</text>
<text transform="translate(87.50,320.71) scale(1,1.06)" text-anchor="end">0.5</text>
<text transform="translate(87.50,272.43) scale(1,1.06)" text-anchor="end">0.6</text>
<text transform="translate(87.50,224.14) scale(1,1.06)" text-anchor="end">0.7</text>
<text transform="translate(87.50,175.86) scale(1,1.06)" text-anchor="end">0.8</text>
<text transform="translate(87.50,127.57) scale(1,1.06)" text-anchor="end">0.9</text>
<text transform="translate(87.50,79.29) scale(1,1.06)" text-anchor="end">1</text>
<text transform="translate(87.50,31.00) scale(1,1.06)" text-anchor="end">1.1</text>
<text transform="translate(101.70,388.70) scale(1,1.06)" text-anchor="middle">0</text>
<text transform="translate(218.70,388.70) scale(1,1.06)" text-anchor="middle">500</text>
<text transform="translate(335.70,388.70) scale(1,1.06)" text-anchor="middle">1000</text>
<text transform="translate(452.70,388.70) scale(1,1.06)" text-anchor="middle">1500</text>
<text transform="translate(569.70,388.70) scale(1,1.06)" text-anchor="middle">2000</text>
<text transform="translate(333.00,416.50) scale(1,1.06)" text-anchor="middle">t(Myr)</text>
<text style="font-size:19.2px" transform="translate(24.20,192.60) rotate(-90) scale(1,1.09)" text-anchor="middle">L/L<tspan font-size="15.76" dy="5.91">0</tspan></text>
<text transform="translate(204.00,272.30) scale(1,1.06)" text-anchor="end">P2</text>
<text transform="translate(204.00,291.80) scale(1,1.06)" text-anchor="end">INTGC</text>
<text transform="translate(204.00,310.80) scale(1,1.06)" text-anchor="end">standard</text>
<text transform="translate(204.80,328.70) scale(1,1.06)" text-anchor="end"><tspan class="sym" font-size="22">χ</tspan><tspan font-size="15.76" dy="5.91">s</tspan></text>
<text transform="translate(204.80,349.00) scale(1,1.06)" text-anchor="end">ln<tspan class="sym" font-size="19">Λ</tspan><tspan font-size="15.76" dy="5.91">s</tspan></text>
<g fill="none">
<path d="M215.7,266.1H271.3" stroke="#ff0000" stroke-width="3.4"/>
<path d="M215.7,285.6H271.3" stroke="#00ff00" stroke-width="3.4" stroke-dasharray="5.9 2.48"/>
<path d="M215.7,305.0H271.3" stroke="#0000ff" stroke-width="2.4" stroke-dasharray="2.8 4.2"/>
<path d="M215.7,324.5H271.3" stroke="#ff00ff" stroke-width="2.7" stroke-dasharray="1.4 2.1"/>
<path d="M215.7,344.0H271.3" stroke="#00ffff" stroke-width="2.2" stroke-dasharray="8.6 2.7 1.5 2.5"/>
</g>
</svg></body></html>
